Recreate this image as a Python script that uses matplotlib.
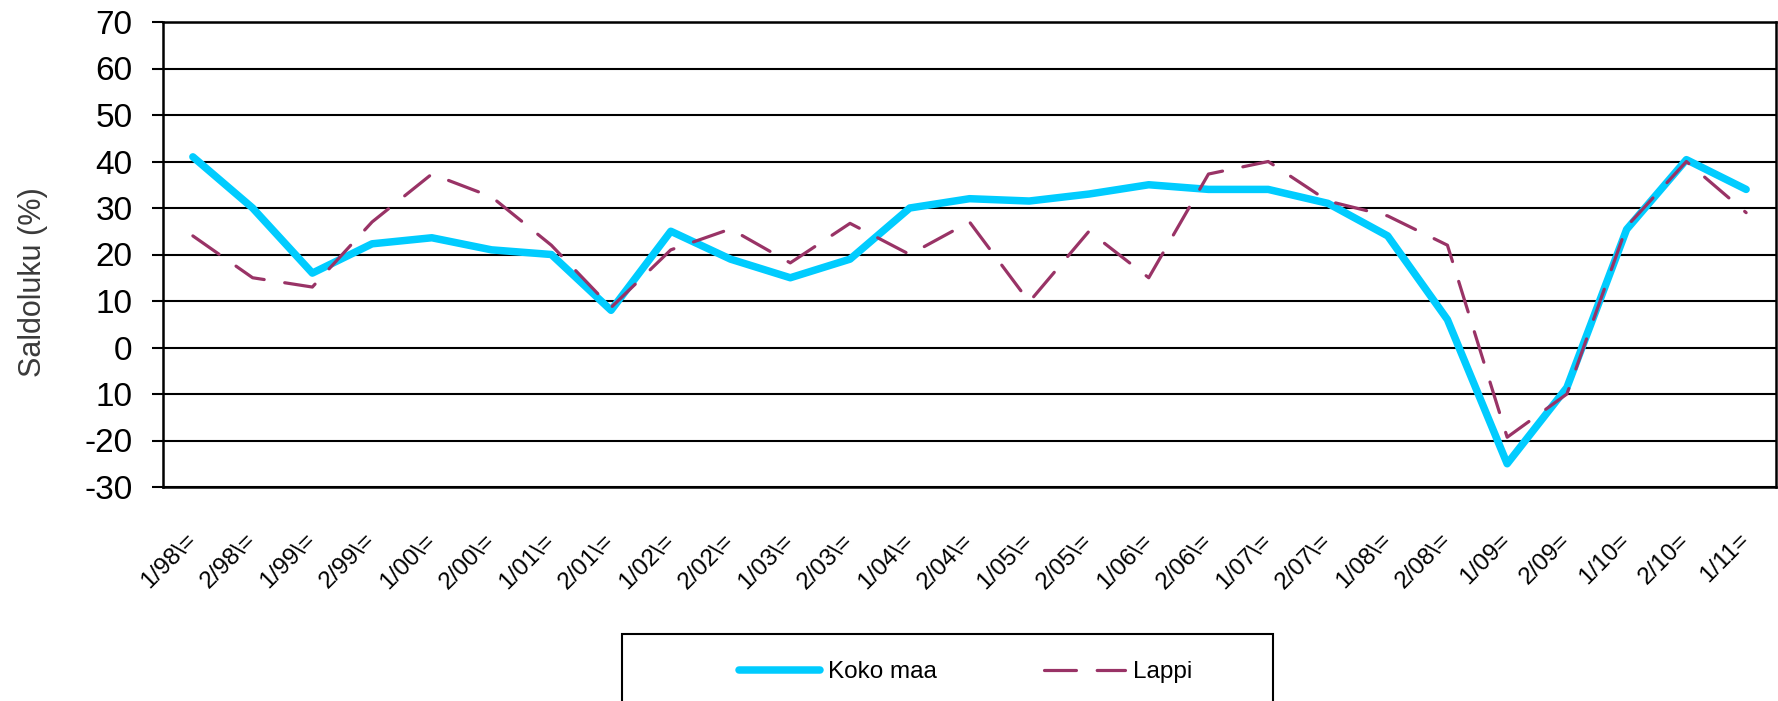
import matplotlib
matplotlib.use("Agg")
import matplotlib.pyplot as plt
from matplotlib.patches import Rectangle

plt.rcParams['font.family'] = ['Liberation Sans', 'DejaVu Sans']

# Data
periods = ['1/98\\=', '2/98\\=', '1/99\\=', '2/99\\=', '1/00\\=', '2/00\\=', '1/01\\=',
           '2/01\\=', '1/02\\=', '2/02\\=', '1/03\\=', '2/03\\=', '1/04\\=', '2/04\\=',
           '1/05\\=', '2/05\\=', '1/06\\=', '2/06\\=', '1/07\\=', '2/07\\=', '1/08\\=',
           '2/08\\=', '1/09=', '2/09=', '1/10=', '2/10=', '1/11=']
koko_maa = [41, 30, 16, 22.3, 23.6, 21, 20, 8, 25, 19, 15, 19, 30, 32, 31.5,
            33, 35, 34, 34, 31, 24, 6, -25, -8.6, 25.4, 40.4, 34]
lappi = [24, 15, 13, 27, 37.3, 32.4, 22, 8.6, 21, 25.5, 18.2, 26.7, 20, 27, 9.8,
         25, 15, 37.3, 40, 31.5, 28.3, 22, -19.3, -10, 26, 40, 29]
y_ticks = [70, 60, 50, 40, 30, 20, 10, 0, -10, -20, -30]
y_tick_labels = ['70', '60', '50', '40', '30', '20', '10', '0', '10', '-20', '-30']

W, H = 1778, 701
fig = plt.figure(figsize=(W / 100, H / 100), dpi=100)
ax = fig.add_axes([163 / W, 1 - 487 / H, (1776 - 163) / W, (487 - 22) / H])

x = list(range(len(periods)))
ax.plot(x, koko_maa, color='#00CCFF', lw=5.4, solid_capstyle='round',
        solid_joinstyle='round', label='Koko maa', zorder=3)
ax.plot(x, lappi, color='#993366', lw=2.3, dashes=(10, 6.5), dash_capstyle='round',
        label='Lappi', zorder=4)

ax.set_xlim(-0.5, len(periods) - 0.5)
ax.set_ylim(-30, 70)
ax.set_yticks(y_ticks)
ax.set_yticklabels(y_tick_labels, fontsize=24)
ax.set_xticks(x)
ax.set_xticklabels(periods, rotation=45, ha='right', va='center', rotation_mode='anchor',
                   fontsize=17.5)
ax.tick_params(axis='x', length=0, pad=36)
ax.tick_params(axis='y', length=8, width=1.5, pad=14, direction='out')

ax.grid(axis='y', color='black', lw=1.5)
ax.set_axisbelow(True)
for s in ax.spines.values():
    s.set_linewidth(1.8)

ax.set_ylabel('Saldoluku (%)', fontsize=22, color='#3a3a3a')
ax.yaxis.set_label_coords(-0.0715, 0.4415)

# legend box runs past the bottom edge, like the cropped original
fig.patches.append(Rectangle((622 / W, -0.2), 651 / W, 0.2 + 1 - 634 / H,
                             transform=fig.transFigure, fill=False, lw=1.5,
                             edgecolor='black'))
fig.legend(loc='center left', bbox_to_anchor=(727 / W, 1 - 672 / H), ncol=2,
           frameon=False, borderpad=0, fontsize=17.5, handlelength=3.33,
           handletextpad=0.33, columnspacing=4.4)

fig.savefig('out.png', dpi=100)
